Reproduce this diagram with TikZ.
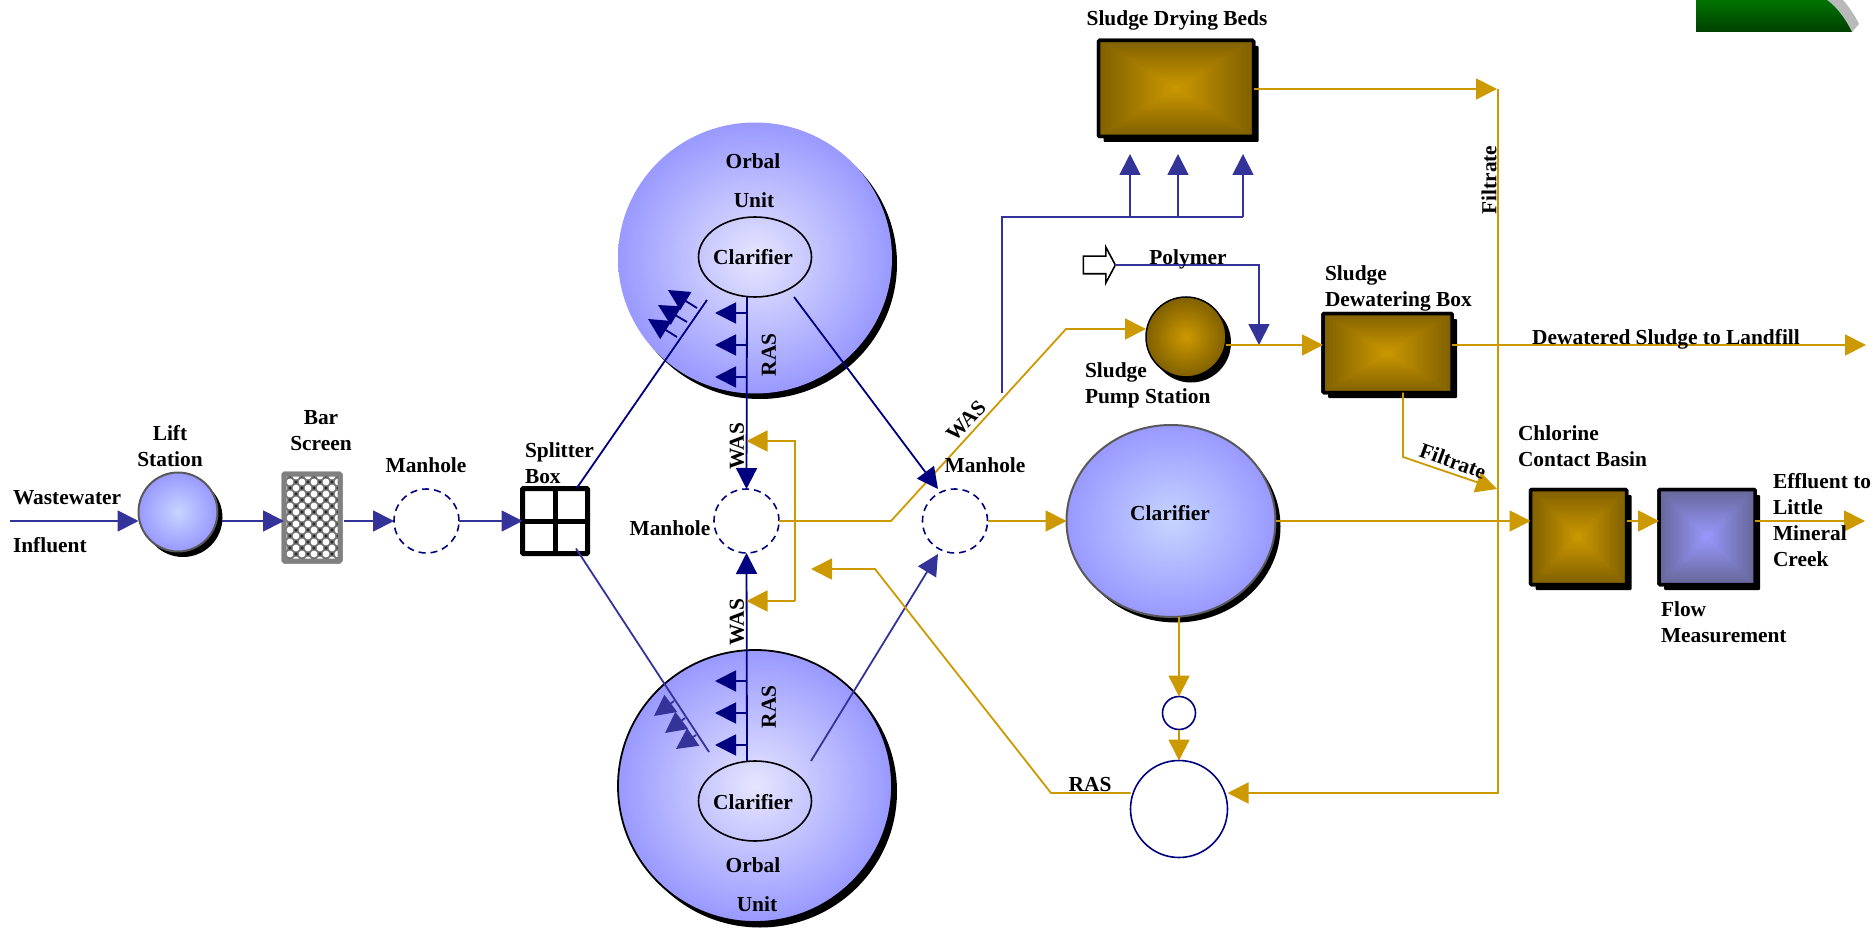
\documentclass[tikz,border=0pt]{standalone}
\usepackage{fontspec}
\setmainfont{Liberation Serif}
\usetikzlibrary{arrows.meta,shapes.geometric,shapes.arrows,shadows,calc}
\definecolor{navyc}{HTML}{000080}
\definecolor{bluec}{HTML}{333399}
\definecolor{goldc}{HTML}{CC9900}
\definecolor{goldd}{HTML}{806000}
\definecolor{peri}{HTML}{9999FF}
\definecolor{perid}{HTML}{666699}
\definecolor{pale}{HTML}{C6D4FF}
\tikzset{
  x=1pt,y=-1pt,
  lbl/.style={font=\fontsize{21.4}{26}\bfseries\selectfont,inner sep=0pt,outer sep=0pt,text=black},
  lblc/.style={lbl,align=center},
  lbll/.style={lbl,align=left,anchor=west},
  bigtip/.style={-{Triangle[length=21pt,width=21pt]}},
  gold/.style={draw=goldc,line width=1.8pt,line cap=butt},
  blu/.style={draw=bluec,line width=1.8pt},
  nav/.style={draw=navyc,line width=1.8pt},
  shd/.style={general shadow={fill=black,shadow xshift=5pt,shadow yshift=-5.5pt}},
  vessel/.style={ellipse,inner sep=0pt,outer sep=0pt},
  manhole/.style={vessel,draw=navyc,line width=1.6pt,dash pattern=on 7pt off 5pt,fill=white},
  plain/.style={vessel,draw=navyc,line width=1.6pt,fill=white},
  pbox/.style={rectangle,inner sep=0pt,outer sep=0pt,draw=black,line width=3.5pt,rounded corners=1pt,fill=black},
}
\newcommand{\pyrbox}[7]{%
  \node[pbox,shd,minimum width=#4pt,minimum height=#5pt] (#1) at (#2,#3) {};
  \foreach \i in {40,39,...,1}{
    \pgfmathsetmacro{\pp}{100*\i/40}
    \pgfmathsetmacro{\hw}{#4/2*\i/40}
    \pgfmathsetmacro{\hh}{#5/2*\i/40}
    \fill[#6!\pp!#7] (#2-\hw,#3-\hh) rectangle (#2+\hw,#3+\hh);
  }
  \draw[black,line width=3.5pt,rounded corners=1pt] (#1.south west) rectangle (#1.north east);
}
\begin{document}
\begin{tikzpicture}
\useasboundingbox (0,0) rectangle (1875,928);
% green remnant
\fill[gray!55] (1827,0) -- (1843,0) .. controls (1850,8) and (1855,16) .. (1859,24) -- (1852,32) .. controls (1846,20) and (1838,8) .. (1827,0) -- cycle;
\shade[top color=green!45!black,bottom color=green!25!black] (1696,0) -- (1827,0) .. controls (1838,8) and (1846,20) .. (1852,32) -- (1696,32) -- cycle;

% rows and free ends
\coordinate (row) at (0,521);
\coordinate (inlet) at (10,521);
\coordinate (outA) at (1866,345);
\coordinate (outB) at (1865,521);
\coordinate (fTop) at (1497,89);
\coordinate (fBend) at (1498,793);
\coordinate (fBelt) at (1498,89);

% vessels
\node[vessel,shd,draw=black!65,line width=2pt,minimum width=79pt,minimum height=79pt,shade,inner color=pale,outer color=peri] (lift) at (178,512) {};
\node[vessel,shd,minimum width=274pt,minimum height=271pt,shade,inner color=peri!25!white,outer color=peri] (orbT) at (755,258) {};
\node[vessel,shd,draw=black,line width=1.8pt,minimum width=274pt,minimum height=272pt,shade,inner color=peri!25!white,outer color=peri] (orbB) at (755,786) {};
\node[vessel,draw=black,line width=1.6pt,minimum width=113pt,minimum height=80pt] (clarT) at (755,257) {};
\node[vessel,draw=black,line width=1.6pt,minimum width=113pt,minimum height=80pt] (clarB) at (755,801) {};
\node[vessel,shd,draw=black!65,line width=2pt,minimum width=209pt,minimum height=192pt,shade,inner color=pale,outer color=peri] (clar) at (1171,521) {};
\node[vessel,shd,draw=black,line width=1.5pt,minimum width=80pt,minimum height=80pt,shade,inner color=goldc,outer color=goldd] (pump) at (1186,337) {};
\node[manhole,minimum width=65pt,minimum height=64pt] (mh1) at (426.5,521) {};
\node[manhole,minimum width=65pt,minimum height=64pt] (mh2) at (746.5,521) {};
\node[manhole,minimum width=65pt,minimum height=64pt] (mh3) at (955,521) {};
\node[plain,minimum width=33pt,minimum height=33pt] (small) at (1179,713) {};
\node[plain,minimum width=97pt,minimum height=97pt] (big) at (1179,809) {};

% bar screen
\node[rectangle,inner sep=0pt,outer sep=0pt,draw=black!50,line width=5pt,rounded corners=1pt,fill=black!55,minimum width=56pt,minimum height=87pt] (bar) at (312,517.5) {};
\begin{scope}
\clip (bar.south west) rectangle (bar.north east);
\foreach \r in {0,...,14}{
  \pgfmathsetmacro{\yy}{476+6*\r}
  \pgfmathsetmacro{\off}{mod(\r,2)*6}
  \foreach \c in {0,...,5}{
    \pgfmathsetmacro{\xx}{284+12*\c+\off}
    \fill[white] (\xx,\yy) circle[radius=3.4pt];
    \fill[black!85] (\xx+6,\yy) circle[radius=1.6pt];
  }
}
\end{scope}
\draw[black!50,line width=5pt,rounded corners=1pt] (bar.south west) rectangle (bar.north east);

% splitter
\node[rectangle,inner sep=0pt,outer sep=0pt,draw=black,line width=5pt,rounded corners=1pt,minimum width=65pt,minimum height=65pt,fill=white] (split) at (555,521) {};
\draw[black,line width=5pt] (split.north) -- (split.south);
\draw[black,line width=5pt] (split.west) -- (split.east);

% boxes
\pyrbox{beds}{1176}{88.5}{155}{96}{goldd}{goldc}
\pyrbox{dew}{1387.5}{353}{129}{79}{goldd}{goldc}
\pyrbox{chl}{1578.5}{537}{96}{95}{goldd}{goldc}
\pyrbox{flow}{1707}{537}{96}{95}{perid}{peri}

% polymer block arrow
\node[single arrow,draw=black,line width=1.6pt,fill=white,inner sep=0pt,outer sep=0pt,text width=0pt,text height=16pt,text depth=0pt,minimum height=32pt,minimum width=34pt,single arrow tip angle=124,single arrow head extend=9pt] (poly) at (1097,265) {};

% main blue run
\draw[blu,bigtip] (inlet) -- (lift.west |- row);
\draw[blu,bigtip] ([xshift=4pt]lift.east |- row) -- (bar.west |- row);
\draw[blu,bigtip] ([xshift=4pt]bar.east |- row) -- (mh1.west);
\draw[blu,bigtip] (mh1.east) -- (split.west);

% WAS to pump and drying beds (under the Orbal outlet tip)
\coordinate (knee) at (891,521);
\coordinate (knee2) at (1066,329);
\draw[gold,bigtip] (mh2.east) -- (knee) -- (knee2) -- (knee2 -| pump.west);

% top Orbal
\coordinate (tIn) at (707,300);
\coordinate (tOut) at (794,297);
\coordinate (ras1) at (747,313);
\coordinate (ras2) at (747,345);
\coordinate (ras3) at (747,377);
\draw[nav] (tIn) -- ([xshift=21.5pt]split.north);
\draw[nav,bigtip] (clarT.south -| ras1) -- (mh2.north);
\draw[nav,bigtip] (tOut) -- (938,489);
\foreach \n in {1,2,3}{
  \draw[nav,bigtip] (ras\n) -- ++(-32,0);
}
\coordinate (a1) at (697,308); \coordinate (a1e) at (668,290);
\coordinate (a2) at (687,322); \coordinate (a2e) at (658,305);
\coordinate (a3) at (677,337); \coordinate (a3e) at (648,319);
\foreach \n in {1,2,3}{
  \draw[nav,bigtip] (a\n) -- (a\n e);
}

% bottom Orbal
\coordinate (bIn) at (709,752);
\coordinate (bOut) at (811,761);
\coordinate (rbs1) at (747,681);
\coordinate (rbs2) at (747,713);
\coordinate (rbs3) at (747,745);
\draw[blu] ([xshift=21pt,yshift=5pt]split.south) -- (bIn);
\draw[nav,bigtip] (clarB.north -| rbs1) -- (mh2.south);
\draw[blu,bigtip] (bOut) -- (938,554);
\foreach \n in {1,2,3}{
  \draw[nav,bigtip] (rbs\n) -- ++(-32,0);
}
\coordinate (c1) at (674,701); \coordinate (c1e) at (654,716);
\coordinate (c2) at (685,718); \coordinate (c2e) at (665,733);
\coordinate (c3) at (696,735); \coordinate (c3e) at (676,749);
\foreach \n in {1,2,3}{
  \draw[blu,bigtip] (c\n) -- (c\n e);
}

% drying beds feed
\coordinate (wTop) at (1002,217);
\coordinate (wBot) at (1002,393);
\coordinate (d1) at (1130,217);
\coordinate (d2) at (1178,217);
\coordinate (d3) at (1243,217);
\draw[blu] (wBot) -- (wTop) -- (d3);
\draw[blu,bigtip] (d1) -- (1130,154);
\draw[blu,bigtip] (d2) -- (1178,154);
\draw[blu,bigtip] (d3) -- (1243,154);

% polymer
\coordinate (pk) at (1259,265);
\draw[blu,bigtip] (poly.tip) -- (pk) -- (1259,345);

% sludge
\coordinate (r2) at (0,345);
\draw[gold,bigtip] (pump.east |- r2) -- (dew.west |- r2);
\draw[gold,bigtip] (dew.east |- r2) -- (outA);
\draw[gold,bigtip] (beds.east |- fTop) -- (fTop);
\draw[gold,bigtip] (fBelt) -- (fBend) -- (big.east |- fBend);
\coordinate (df) at (1403,457);
\draw[gold,bigtip] (dew.south -| df) -- (df) -- (1497,489);

% bracket at centre
\coordinate (bk1) at (795,441);
\coordinate (bk2) at (795,601);
\draw[gold,bigtip] (bk2) -- (bk1) -- (bk1 -| mh2);
\draw[gold,bigtip] (bk2) -- (bk2 -| mh2);

% RAS return
\coordinate (rk1) at (1051,793);
\coordinate (rk2) at (875,569);
\draw[gold,bigtip] (big.west |- rk1) -- (rk1) -- (rk2) -- (811,569);

% secondary
\draw[gold,bigtip] (mh3.east) -- (clar.west);
\draw[gold,bigtip] (clar.east) -- (chl.west |- row);
\draw[gold,bigtip] (chl.east |- row) -- (flow.west |- row);
\draw[gold,bigtip] (flow.east |- row) -- (outB);
\draw[gold,bigtip] (clar.south -| small) -- (small.north);
\draw[gold,bigtip] (small.south) -- (big.north);

% labels
\node[lbll] at (13,498) {Wastewater};
\node[lbll] at (13,545) {Influent};
\node[lblc] at (170,446) {Lift\\Station};
\node[lblc] at (321,431) {Bar\\Screen};
\node[lblc] at (426,465) {Manhole};
\node[lbll] at (525,463) {Splitter\\Box};
\node[lblc] at (753,161) {Orbal};
\node[lblc] at (754,200) {Unit};
\node[lblc] at (753,257) {Clarifier};
\node[lblc,rotate=90] at (769,355) {RAS};
\node[lblc,rotate=90] at (737,446) {WAS};
\node[lblc] at (670,528) {Manhole};
\node[lblc,rotate=90] at (737,622) {WAS};
\node[lblc,rotate=90] at (769,707) {RAS};
\node[lblc] at (753,802) {Clarifier};
\node[lblc] at (753,865) {Orbal};
\node[lblc] at (757,904) {Unit};
\node[lblc,rotate=45] at (966,421) {WAS};
\node[lblc] at (985,465) {Manhole};
\node[lblc] at (1170,513) {Clarifier};
\node[lblc] at (1090,785) {RAS};
\node[lblc] at (1177,20) {Sludge Drying Beds};
\node[lblc] at (1188,259) {Polymer};
\node[lbll] at (1325,288) {Sludge\\Dewatering Box};
\node[lbll] at (1085,385) {Sludge\\Pump Station};
\node[lblc] at (1666,339) {Dewatered Sludge to Landfill};
\node[lblc,rotate=90] at (1489,180) {Filtrate};
\node[lblc,rotate=-20] at (1453,461) {Filtrate};
\node[lbll] at (1518,446) {Chlorine\\Contact Basin};
\node[lbll] at (1773,520) {Effluent to\\Little\\Mineral\\Creek};
\node[lbll] at (1661,622) {Flow\\Measurement};
\end{tikzpicture}
\end{document}
